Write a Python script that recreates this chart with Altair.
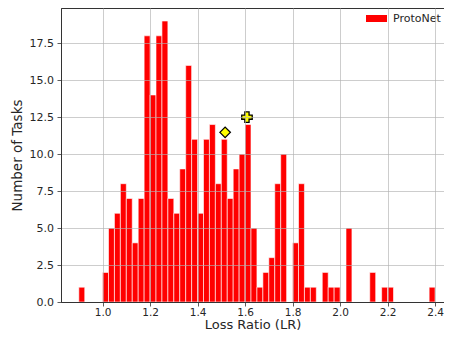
import altair as alt
import numpy as np
import pandas as pd

# ---- data ----
bin_start = 0.9
bin_width = 0.025
counts = [1, 0, 0, 0, 2, 5, 6, 8, 7, 4,
          7, 18, 14, 18, 19, 7, 6, 9, 16, 11,
          6, 11, 12, 8, 11, 7, 9, 10, 12, 5,
          1, 2, 3, 8, 10, 0, 4, 8, 1, 1,
          0, 2, 1, 1, 0, 5, 0, 0, 0, 2,
          0, 1, 1, 0, 0, 0, 0, 0, 0, 1]
series_name = "ProtoNet"

diamond_x = [1.516]
diamond_y = [11.47]
cross_x = [1.608]
cross_y = [12.5]

x_ticks = [1.0, 1.2, 1.4, 1.6, 1.8, 2.0, 2.2, 2.4]
y_ticks = [0.0, 2.5, 5.0, 7.5, 10.0, 12.5, 15.0, 17.5]

# ---- table ----
starts = bin_start + bin_width * np.arange(len(counts))
df = pd.DataFrame({"start": starts, "end": starts + bin_width,
                   "count": counts, "series": series_name})
df = df[df["count"] > 0]

FONT = "DejaVu Sans"
TXT = "#262626"

xscale = alt.Scale(domain=[0.825, 2.4376], nice=False, zero=False)
yscale = alt.Scale(domain=[0, 19.88], nice=False, zero=True)

xaxis = alt.Axis(values=x_ticks, format=".1f", title="Loss Ratio (LR)", zindex=1,
                 titleBaseline="alphabetic", titleY=26.5)
yaxis = alt.Axis(values=y_ticks, format=".1f", title="Number of Tasks", zindex=1)

bars = alt.Chart(df).mark_bar(stroke="white", strokeWidth=0.6).encode(
    x=alt.X("start:Q", scale=xscale, axis=xaxis),
    x2="end:Q",
    y=alt.Y("count:Q", scale=yscale, axis=yaxis),
    y2=alt.datum(0),
    color=alt.Color("series:N", scale=alt.Scale(range=["#ff0000"]),
                    legend=alt.Legend(title=None, orient="none", legendX=305, legendY=0,
                                      symbolType="M-1,-0.333H1V0.333H-1Z", symbolSize=441,
                                      symbolStrokeWidth=0, labelFontSize=11, labelFont=FONT,
                                      labelColor=TXT, labelOffset=6, padding=0)),
)

dia = alt.Chart(pd.DataFrame({"x": diamond_x, "y": diamond_y})).mark_point(
    shape="diamond", filled=True, fill="#ffff00", stroke="black", strokeWidth=1.3,
    size=110, opacity=1).encode(x=alt.X("x:Q", scale=xscale), y=alt.Y("y:Q", scale=yscale))

crs = alt.Chart(pd.DataFrame({"x": cross_x, "y": cross_y})).mark_point(
    shape="cross", filled=True, fill="#ffff00", stroke="black", strokeWidth=1.3,
    size=110, opacity=1).encode(x=alt.X("x:Q", scale=xscale), y=alt.Y("y:Q", scale=yscale))

chart = alt.layer(bars, dia, crs).properties(
    width=383, height=294,
    padding={"left": 53, "top": 0, "right": 0, "bottom": 29},
    autosize=alt.AutoSizeParams(type="none"),
).configure_view(stroke="#333333", strokeWidth=1).configure_axis(
    labelFont=FONT, titleFont=FONT, labelFontSize=11, titleFontSize=13.5,
    titleFontWeight="normal", labelColor=TXT, titleColor=TXT,
    domainColor="#333333", tickColor="#333333", tickSize=4, tickWidth=0.8,
    gridColor="#b0b0b0", gridWidth=0.8, gridOpacity=0.8,
).configure_axisX(labelPadding=1.5, labelFontSize=10.5, titleFontSize=13).configure_axisY(
    labelPadding=3.5, titlePadding=5)

chart.save("out.html", embed_options={"renderer": "svg", "actions": False})
